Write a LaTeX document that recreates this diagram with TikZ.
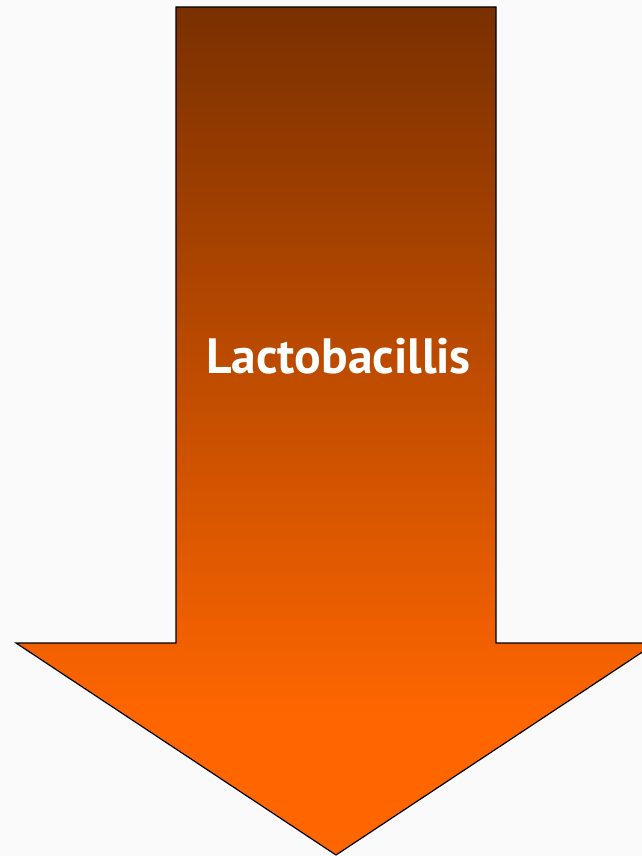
\documentclass[tikz,border=0pt]{standalone}
\usepackage{fontspec}
\setmainfont{PT Sans}
\definecolor{bg}{HTML}{FAFAFA}
\definecolor{arrowtop}{HTML}{7A3000}
\definecolor{arrowbot}{HTML}{FF6600}
\pgfdeclareverticalshading{arrowshade}{100bp}{color(0bp)=(arrowbot); color(33bp)=(arrowbot); color(75bp)=(arrowtop); color(100bp)=(arrowtop)}
\tikzset{
  bigarrow/.style={draw=black, line width=1.2pt, line join=miter, shading=arrowshade},
  label/.style={text=white, font=\bfseries\fontsize{49.6}{58}\selectfont, anchor=base}
}
\begin{document}
\begin{tikzpicture}[x=1pt,y=-1pt]
\fill[bg] (0,0) rectangle (642,856);
\useasboundingbox (0,0) rectangle (642,856);
\begin{scope}
\clip (0,0) rectangle (642,856);
\path[bigarrow] (176,7) -- (496,7) -- (496,643) -- (656,643) -- (336,855) -- (16,643) -- (176,643) -- cycle;
\end{scope}
\node[label] (t) at (338.5,373) {Lactobacillis};
\end{tikzpicture}
\end{document}
